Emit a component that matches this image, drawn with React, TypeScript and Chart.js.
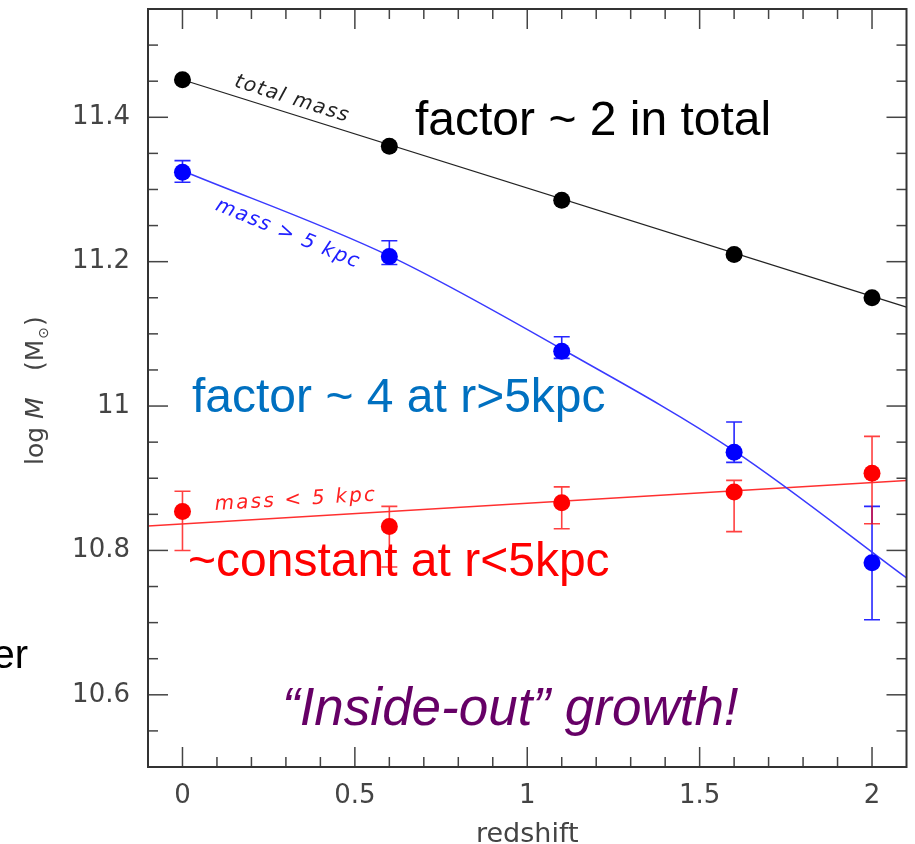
import React, { useEffect, useRef } from "react";
import { Chart, registerables } from "chart.js";

Chart.register(...registerables);

// ---- data ----
const redshift = [0, 0.6, 1.1, 1.6, 2.0];
const totalMass = [11.452, 11.36, 11.285, 11.21, 11.15];
const outerMass = [11.324, 11.207, 11.076, 10.936, 10.783];
const outerLow = [11.31, 11.196, 11.066, 10.922, 10.704];
const outerHigh = [11.34, 11.229, 11.096, 10.978, 10.861];
const innerMass = [10.854, 10.833, 10.866, 10.881, 10.907];
const innerLow = [10.8, 10.777, 10.83, 10.826, 10.837];
const innerHigh = [10.882, 10.861, 10.888, 10.897, 10.958];

const totalFitX = [0, 2.1];
const totalFitY = [11.452, 11.137];
const outerFitX = [0, 0.6, 1.1, 1.6, 2.1];
const outerFitY = [11.326, 11.208, 11.079, 10.938, 10.762];
const innerFitX = [-0.1, 2.1];
const innerFitY = [10.834, 10.897];

const xTicks = [0, 0.5, 1, 1.5, 2];
const xTickLabels = ["0", "0.5", "1", "1.5", "2"];
const yTicks = [10.6, 10.8, 11, 11.2, 11.4];
const yTickLabels = ["10.6", "10.8", "11", "11.2", "11.4"];
const xRange = [-0.1, 2.1];
const yRange = [10.5, 11.55];
const xMinorStep = 0.1;
const yMinorStep = 0.05;

const xTitle = "redshift";
const lineLabels = ["total mass", "mass > 5 kpc", "mass < 5 kpc"];
const notes = [
  "factor ~ 2 in total",
  "factor ~ 4 at r>5kpc",
  "~constant at r<5kpc",
  "\u201cInside-out\u201d growth!",
  "er",
];

const pts = (xs: number[], ys: number[]) => xs.map((x, i) => ({ x, y: ys[i] }));

function interp(xs: number[], ys: number[], v: number) {
  for (let i = 0; i < xs.length - 1; i++) {
    if (v >= xs[i] && v <= xs[i + 1]) {
      const t = (v - xs[i]) / (xs[i + 1] - xs[i]);
      return ys[i] + t * (ys[i + 1] - ys[i]);
    }
  }
  return ys[ys.length - 1];
}

const bgPlugin = {
  id: "bg",
  beforeDraw(chart: any) {
    const { ctx, width, height } = chart;
    ctx.save();
    ctx.fillStyle = "#fff";
    ctx.fillRect(0, 0, width, height);
    ctx.restore();
  },
};

const errorBarPlugin = {
  id: "errorBars",
  beforeDatasetsDraw(chart: any) {
    const { ctx, scales } = chart;
    const x = scales.x;
    const y = scales.y;
    const draw = (lo: number[], hi: number[], color: string) => {
      ctx.save();
      ctx.strokeStyle = color;
      ctx.lineWidth = 1.6;
      redshift.forEach((z, i) => {
        const px = x.getPixelForValue(z);
        const y1 = y.getPixelForValue(lo[i]);
        const y2 = y.getPixelForValue(hi[i]);
        ctx.beginPath();
        ctx.moveTo(px, y1);
        ctx.lineTo(px, y2);
        ctx.moveTo(px - 8, y1);
        ctx.lineTo(px + 8, y1);
        ctx.moveTo(px - 8, y2);
        ctx.lineTo(px + 8, y2);
        ctx.stroke();
      });
      ctx.restore();
    };
    draw(outerLow, outerHigh, "rgba(0,0,255,0.85)");
    draw(innerLow, innerHigh, "rgba(255,0,0,0.75)");
  },
};

const framePlugin = {
  id: "frame",
  afterDatasetsDraw(chart: any) {
    const { ctx, chartArea: a, scales } = chart;
    const x = scales.x;
    const y = scales.y;
    ctx.save();
    ctx.strokeStyle = "#444";
    ctx.lineWidth = 1.5;
    const seg = (x1: number, y1: number, x2: number, y2: number) => {
      ctx.beginPath();
      ctx.moveTo(x1, y1);
      ctx.lineTo(x2, y2);
      ctx.stroke();
    };
    const nx = Math.round((xRange[1] - xRange[0]) / xMinorStep);
    for (let i = 1; i < nx; i++) {
      const v = xRange[0] + i * xMinorStep;
      const major = xTicks.some((t) => Math.abs(t - v) < 1e-6);
      const len = major ? 20 : 10;
      const px = x.getPixelForValue(v);
      seg(px, a.bottom, px, a.bottom - len);
      seg(px, a.top, px, a.top + len);
    }
    const ny = Math.round((yRange[1] - yRange[0]) / yMinorStep);
    for (let i = 1; i < ny; i++) {
      const v = yRange[0] + i * yMinorStep;
      const major = yTicks.some((t) => Math.abs(t - v) < 1e-6);
      const len = major ? 20 : 10;
      const py = y.getPixelForValue(v);
      seg(a.left, py, a.left + len, py);
      seg(a.right, py, a.right - len, py);
    }
    ctx.strokeStyle = "#333";
    ctx.lineWidth = 2;
    ctx.strokeRect(a.left, a.top, a.right - a.left, a.bottom - a.top);
    ctx.restore();
  },
};

const textPlugin = {
  id: "texts",
  afterDraw(chart: any) {
    const { ctx, scales, chartArea: a } = chart;
    const x = scales.x;
    const y = scales.y;

    // axis titles
    ctx.save();
    ctx.fillStyle = "#444";
    ctx.font = '27px "DejaVu Sans", sans-serif';
    ctx.textAlign = "center";
    ctx.textBaseline = "alphabetic";
    ctx.fillText(xTitle, (a.left + a.right) / 2, 842);
    ctx.restore();

    ctx.save();
    ctx.fillStyle = "#444";
    ctx.translate(43, 465);
    ctx.rotate(-Math.PI / 2);
    ctx.textBaseline = "alphabetic";
    ctx.textAlign = "left";
    ctx.font = '25px "DejaVu Sans", sans-serif';
    ctx.fillText("log", 0, 0);
    ctx.font = 'italic 25px "DejaVu Sans", sans-serif';
    ctx.fillText("M", 46, 0);
    ctx.font = '25px "DejaVu Sans", sans-serif';
    ctx.fillText("(M", 94, 0);
    let off = 94 + ctx.measureText("(M").width + 1;
    ctx.font = '14px "DejaVu Sans", sans-serif';
    ctx.fillText("\u2299", off, 5);
    off += ctx.measureText("\u2299").width + 1;
    ctx.font = '25px "DejaVu Sans", sans-serif';
    ctx.fillText(")", off, 0);
    ctx.restore();

    // labels along the fit lines
    const along = (
      text: string,
      v: number,
      fx: number[],
      fy: number[],
      angleFrom: [number, number],
      dy: number,
      color: string,
      spacing: number
    ) => {
      const px = x.getPixelForValue(v);
      const py = y.getPixelForValue(interp(fx, fy, v)) + dy;
      const x0 = x.getPixelForValue(angleFrom[0]);
      const x1 = x.getPixelForValue(angleFrom[1]);
      const y0 = y.getPixelForValue(interp(fx, fy, angleFrom[0]));
      const y1 = y.getPixelForValue(interp(fx, fy, angleFrom[1]));
      const ang = Math.atan2(y1 - y0, x1 - x0);
      ctx.save();
      ctx.translate(px, py);
      ctx.rotate(ang);
      ctx.font = 'italic 20px "DejaVu Sans", sans-serif';
      try {
        (ctx as any).letterSpacing = spacing + "px";
      } catch (e) {}
      ctx.fillStyle = color;
      ctx.textAlign = "center";
      ctx.textBaseline = "middle";
      ctx.fillText(text, 0, 0);
      ctx.restore();
    };
    along(lineLabels[0], 0.318, totalFitX, totalFitY, [0, 2.1], -15, "#222", 1.5);
    along(lineLabels[1], 0.306, outerFitX, outerFitY, [0, 0.6], 20, "#2020ff", 1.5);
    along(lineLabels[2], 0.329, innerFitX, innerFitY, [-0.1, 2.1], -17, "#ff2020", 2.2);

    // slide annotations
    const note = (t: string, px: number, py: number, font: string, color: string, align = "left") => {
      ctx.save();
      ctx.font = font;
      ctx.fillStyle = color;
      ctx.textAlign = align;
      ctx.textBaseline = "alphabetic";
      ctx.fillText(t, px, py);
      ctx.restore();
    };
    const arial = '"Liberation Sans", Arial, sans-serif';
    note(notes[0], 415, 135, "48px " + arial, "#000");
    note(notes[1], 192, 412, "48px " + arial, "#0070C0");
    note(notes[2], 188, 576, "48px " + arial, "#FF0000");
    note(notes[3], 282, 725, "italic 53px " + arial, "#660066");
    note(notes[4], 28, 668, "40px " + arial, "#000", "right");
  },
};

export default function App() {
  const ref = useRef<HTMLCanvasElement>(null);
  useEffect(() => {
    document.body.style.margin = "0";
    const canvas = ref.current!;
    const tickFont = { family: '"DejaVu Sans", sans-serif', size: 26 };
    const chart = new Chart(canvas, {
      type: "scatter",
      data: {
        datasets: [
          {
            label: "total mass",
            data: pts(redshift, totalMass),
            backgroundColor: "#000",
            borderWidth: 0,
            pointRadius: 8.5,
            showLine: false,
          },
          {
            label: "mass > 5 kpc",
            data: pts(redshift, outerMass),
            backgroundColor: "#0000ff",
            borderWidth: 0,
            pointRadius: 8.5,
            showLine: false,
          },
          {
            label: "mass < 5 kpc",
            data: pts(redshift, innerMass),
            backgroundColor: "#ff0000",
            borderWidth: 0,
            pointRadius: 8.5,
            showLine: false,
          },
          {
            label: "total fit",
            data: pts(totalFitX, totalFitY),
            showLine: true,
            pointRadius: 0,
            borderColor: "#222",
            borderWidth: 1.3,
          },
          {
            label: "outer fit",
            data: pts(outerFitX, outerFitY),
            showLine: true,
            pointRadius: 0,
            borderColor: "#3a3aff",
            borderWidth: 1.5,
            cubicInterpolationMode: "monotone",
          },
          {
            label: "inner fit",
            data: pts(innerFitX, innerFitY),
            showLine: true,
            pointRadius: 0,
            borderColor: "#ff3030",
            borderWidth: 1.5,
          },
        ],
      },
      options: {
        animation: false,
        responsive: false,
        devicePixelRatio: 1,
        events: [],
        layout: { padding: { top: 9, right: 8, left: 0, bottom: 0 } },
        plugins: { legend: { display: false }, tooltip: { enabled: false } },
        scales: {
          x: {
            type: "linear",
            position: "bottom",
            min: xRange[0],
            max: xRange[1],
            grid: { display: false, drawTicks: false },
            border: { display: false },
            afterBuildTicks: (s: any) => {
              s.ticks = xTicks.map((v) => ({ value: v }));
            },
            afterFit: (s: any) => {
              s.height = 77;
              s.paddingLeft = 0;
              s.paddingRight = 0;
              s.paddingTop = 0;
              s.paddingBottom = 0;
            },
            ticks: {
              font: tickFont,
              color: "#444",
              padding: 14,
              maxRotation: 0,
              autoSkip: false,
              callback: (v: any) => xTickLabels[xTicks.findIndex((t) => Math.abs(t - v) < 1e-9)] ?? "",
            },
          },
          y: {
            type: "linear",
            min: yRange[0],
            max: yRange[1],
            grid: { display: false, drawTicks: false },
            border: { display: false },
            afterBuildTicks: (s: any) => {
              s.ticks = yTicks.map((v) => ({ value: v }));
            },
            afterFit: (s: any) => {
              s.width = 148;
              s.paddingLeft = 0;
              s.paddingRight = 0;
              s.paddingTop = 0;
              s.paddingBottom = 0;
            },
            ticks: {
              font: tickFont,
              color: "#444",
              padding: 18,
              autoSkip: false,
              callback: (v: any) => yTickLabels[yTicks.findIndex((t) => Math.abs(t - v) < 1e-9)] ?? "",
            },
          },
        },
      },
      plugins: [bgPlugin, errorBarPlugin, framePlugin, textPlugin],
    } as any);
    return () => chart.destroy();
  }, []);
  return (
    <div style={{ width: 915, height: 844, background: "#fff" }}>
      <canvas ref={ref} width={915} height={844} style={{ display: "block" }} />
    </div>
  );
}
